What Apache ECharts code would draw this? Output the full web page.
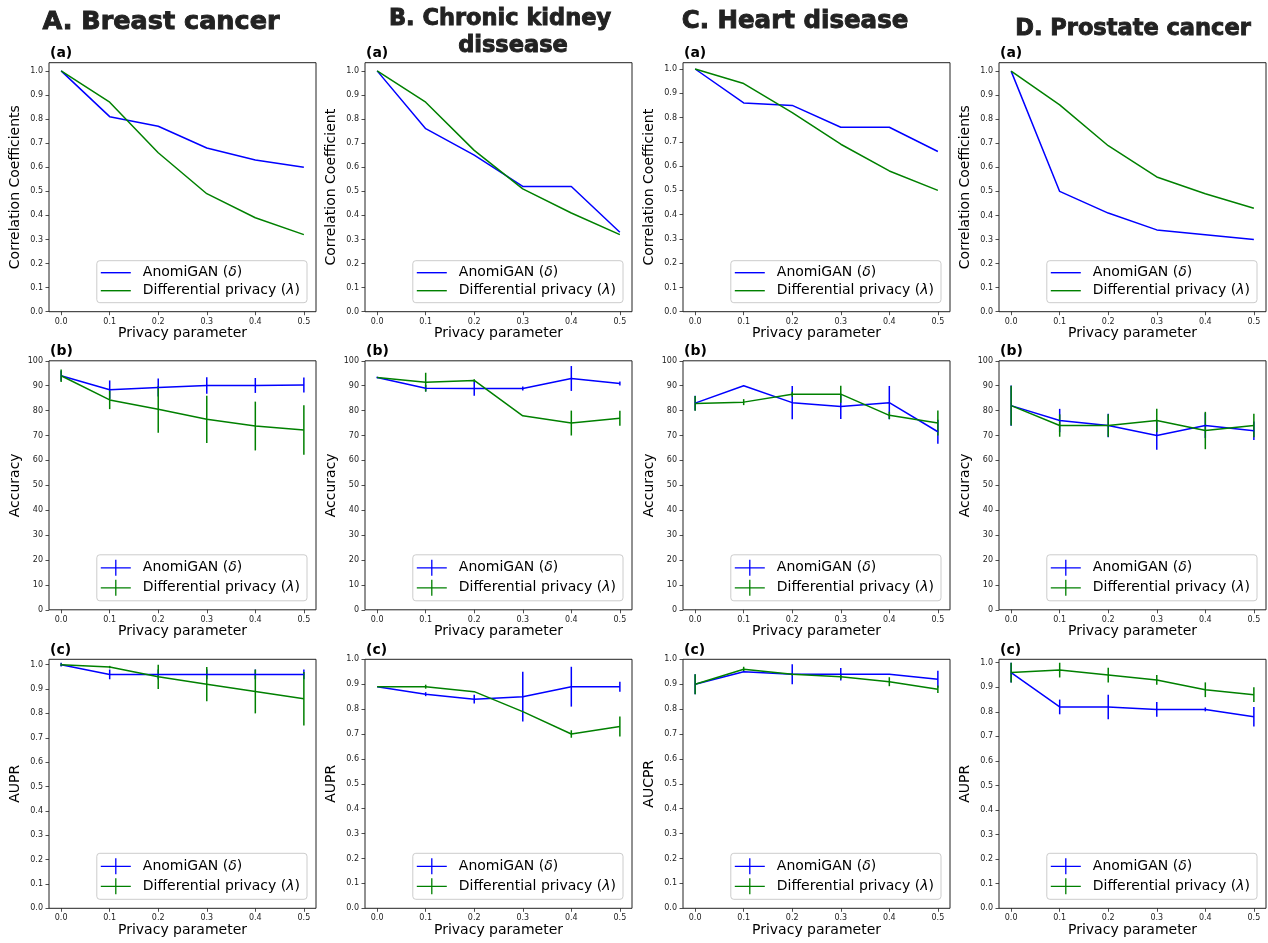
<!DOCTYPE html>
<html><head><meta charset="utf-8">
<script src="https://cdn.jsdelivr.net/npm/echarts@6/dist/echarts.min.js"></script>
<style>html,body{margin:0;padding:0;background:#fff}#c{width:1268px;height:943px}</style>
</head><body><div id="c"></div>
<script>
// ---------- data ----------
const privacyParams = [0.0, 0.1, 0.2, 0.3, 0.4, 0.5];
const xTicks = [0.0, 0.1, 0.2, 0.3, 0.4, 0.5];
const unitTicks = [0.0, 0.1, 0.2, 0.3, 0.4, 0.5, 0.6, 0.7, 0.8, 0.9, 1.0];
const accTicks = [0, 10, 20, 30, 40, 50, 60, 70, 80, 90, 100];
const datasetTitles = ['A. Breast cancer', 'B. Chronic kidney', 'dissease', 'C. Heart disease', 'D. Prostate cancer'];
const NAME_A = 'AnomiGAN (δ)';
const NAME_D = 'Differential privacy (λ)';

const corrYNames = ['Correlation Coefficients', 'Correlation Coefficient', 'Correlation Coefficient', 'Correlation Coefficients'];
const accYNames = ['Accuracy', 'Accuracy', 'Accuracy', 'Accuracy'];
const auprYNames = ['AUPR', 'AUPR', 'AUCPR', 'AUPR'];

const corrYMax = [1.034, 1.034, 1.026, 1.035];
const accYMax = [100, 100, 100, 100];
const auprYMax = [1.022, 1.0, 1.0, 1.014];

// (a) correlation coefficients  [breast, ckd, heart, prostate]
const corrAnomiGAN = [
  [1.0, 0.81, 0.77, 0.68, 0.63, 0.60],
  [1.0, 0.76, 0.65, 0.52, 0.52, 0.33],
  [1.0, 0.86, 0.85, 0.76, 0.76, 0.66],
  [1.0, 0.50, 0.41, 0.34, 0.32, 0.30]
];
const corrDP = [
  [1.0, 0.87, 0.66, 0.49, 0.39, 0.32],
  [1.0, 0.87, 0.67, 0.51, 0.41, 0.32],
  [1.0, 0.94, 0.82, 0.69, 0.58, 0.50],
  [1.0, 0.86, 0.69, 0.56, 0.49, 0.43]
];
// (b) accuracy
const accAnomiGAN = [
  [94.0, 88.4, 89.3, 90.1, 90.1, 90.3],
  [93.3, 89.0, 88.9, 88.9, 92.9, 90.9],
  [83.0, 90.0, 83.2, 81.6, 83.2, 71.5],
  [82.0, 76.0, 74.0, 70.0, 74.0, 71.9]
];
const accAnomiGANErr = [
  [2.0, 3.7, 3.6, 3.3, 3.0, 3.0],
  [0.3, 1.3, 2.9, 0.8, 5.0, 0.8],
  [3.0, 0.0, 6.7, 5.0, 6.7, 4.8],
  [8.1, 4.7, 4.7, 5.7, 5.0, 3.7]
];
const accDP = [
  [94.0, 84.3, 80.5, 76.5, 73.8, 72.2],
  [93.3, 91.4, 92.1, 77.9, 75.0, 76.9],
  [82.9, 83.4, 86.6, 86.6, 78.1, 75.0],
  [82.0, 74.0, 74.0, 76.0, 72.0, 74.0]
];
const accDPErr = [
  [2.5, 3.7, 9.4, 9.5, 9.8, 9.9],
  [0.0, 3.8, 0.5, 0.0, 5.0, 3.0],
  [3.0, 1.2, 1.0, 3.4, 1.5, 5.0],
  [8.0, 4.5, 4.5, 4.7, 7.5, 4.7]
];
// (c) AUPR
const auprAnomiGAN = [
  [1.0, 0.96, 0.96, 0.96, 0.96, 0.96],
  [0.89, 0.86, 0.84, 0.85, 0.89, 0.89],
  [0.90, 0.95, 0.94, 0.94, 0.94, 0.92],
  [0.96, 0.82, 0.82, 0.81, 0.81, 0.78]
];
const auprAnomiGANErr = [
  [0.008, 0.02, 0.02, 0.02, 0.02, 0.02],
  [0.0, 0.008, 0.018, 0.1, 0.08, 0.02],
  [0.04, 0.0, 0.04, 0.025, 0.0, 0.034],
  [0.04, 0.03, 0.05, 0.03, 0.008, 0.04]
];
const auprDP = [
  [1.0, 0.99, 0.95, 0.92, 0.89, 0.86],
  [0.89, 0.89, 0.87, 0.79, 0.70, 0.73],
  [0.90, 0.96, 0.94, 0.93, 0.91, 0.88],
  [0.96, 0.97, 0.95, 0.93, 0.89, 0.87]
];
const auprDPErr = [
  [0.005, 0.005, 0.05, 0.07, 0.09, 0.11],
  [0.0, 0.008, 0.0, 0.0, 0.015, 0.04],
  [0.04, 0.01, 0.005, 0.01, 0.018, 0.015],
  [0.04, 0.03, 0.03, 0.02, 0.03, 0.03]
];

// ---------- layout ----------
const W = 1268, H = 943;
const FONT = 'DejaVu Sans';
const BLUE = '#0000ff', GREEN = '#008000';
const colLeft = [49, 365, 683, 999];
const rowTop = [62.7, 360.8, 659.3];
const plotW = 267, plotH = 249;
const ERR_ICON = 'path://M0,7.35H30V8.65H0Z M14.35,0H15.65V16H14.35Z';
const LINE_ICON = 'path://M0,0H30V1.4H0Z';

const rows = [
  {a: corrAnomiGAN, d: corrDP, ae: null, de: null, ticks: unitTicks, yMax: corrYMax, label: '(a)', names: corrYNames, fmt: v => v.toFixed(1)},
  {a: accAnomiGAN, d: accDP, ae: accAnomiGANErr, de: accDPErr, ticks: accTicks, yMax: accYMax, label: '(b)', names: accYNames, fmt: v => String(v)},
  {a: auprAnomiGAN, d: auprDP, ae: auprAnomiGANErr, de: auprDPErr, ticks: unitTicks, yMax: auprYMax, label: '(c)', names: auprYNames, fmt: v => v.toFixed(1)}
];

const grids = [], xAxes = [], yAxes = [], series = [], legends = [], graphics = [];

function errSeries(name, idx, means, errs, color) {
  const data = [];
  privacyParams.forEach((x, k) => {
    if (errs[k] > 0) data.push([x, means[k] - errs[k], means[k] + errs[k]]);
  });
  return {
    name: name, type: 'custom', xAxisIndex: idx, yAxisIndex: idx, data: data, silent: true,
    renderItem: function (params, api) {
      const p1 = api.coord([api.value(0), api.value(1)]);
      const p2 = api.coord([api.value(0), api.value(2)]);
      return {type: 'line', shape: {x1: p1[0], y1: p1[1], x2: p2[0], y2: p2[1]}, style: {stroke: color, lineWidth: 1.5}};
    }
  };
}

const legendRich = {
  t: {fontFamily: FONT, fontSize: 14, color: '#000'},
  m: {fontFamily: FONT, fontSize: 14, color: '#000', fontStyle: 'italic'},
  s: {width: 7}
};
function legendFmt(name) {
  if (name === NAME_A) return '{s| }{t|AnomiGAN (}{m|δ}{t|)}';
  return '{s| }{t|Differential privacy (}{m|λ}{t|)}';
}

rows.forEach((row, r) => {
  for (let c = 0; c < 4; c++) {
    const i = r * 4 + c;
    const left = colLeft[c], top = rowTop[r];
    grids.push({left: left, top: top, width: plotW, height: plotH, show: true, borderColor: '#222', borderWidth: 1, backgroundColor: 'transparent'});
    xAxes.push({
      type: 'value', gridIndex: i, min: -0.025, max: 0.525, position: 'bottom',
      splitLine: {show: false}, axisLine: {show: false, onZero: false},
      axisTick: {show: true, customValues: xTicks, length: 3.5, lineStyle: {color: '#222', width: 0.8}},
      axisLabel: {customValues: xTicks, formatter: v => v.toFixed(1), fontFamily: FONT, fontSize: 8, color: '#222', margin: 6},
      name: 'Privacy parameter', nameLocation: 'middle', nameGap: 15,
      nameTextStyle: {fontFamily: FONT, fontSize: 14, color: '#000'}
    });
    yAxes.push({
      type: 'value', gridIndex: i, min: 0, max: row.yMax[c], position: 'left',
      splitLine: {show: false}, axisLine: {show: false, onZero: false},
      axisTick: {show: true, customValues: row.ticks, length: 3.5, lineStyle: {color: '#222', width: 0.8}},
      axisLabel: {customValues: row.ticks, formatter: row.fmt, fontFamily: FONT, fontSize: 8, color: '#222', margin: 6},
      name: row.names[c], nameLocation: 'middle', nameGap: 27,
      nameTextStyle: {fontFamily: FONT, fontSize: 14, color: '#000'}
    });
    const mk = vals => privacyParams.map((x, k) => [x, vals[k]]);
    series.push({name: NAME_A, type: 'line', xAxisIndex: i, yAxisIndex: i, data: mk(row.a[c]), symbol: 'none',
      lineStyle: {color: BLUE, width: 1.5}, itemStyle: {color: BLUE}, silent: true});
    if (row.ae) series.push(errSeries(NAME_A + ' err', i, row.a[c], row.ae[c], BLUE));
    series.push({name: NAME_D, type: 'line', xAxisIndex: i, yAxisIndex: i, data: mk(row.d[c]), symbol: 'none',
      lineStyle: {color: GREEN, width: 1.5}, itemStyle: {color: GREEN}, silent: true});
    if (row.de) series.push(errSeries(NAME_D + ' err', i, row.d[c], row.de[c], GREEN));

    const icon = row.ae ? ERR_ICON : LINE_ICON;
    legends.push({
      orient: 'vertical', align: 'left',
      right: W - (left + plotW - 9), bottom: H - (top + plotH - 9),
      itemWidth: 30, itemHeight: 16, itemGap: 4, symbolKeepAspect: true,
      padding: [5, 7, 5, 4],
      backgroundColor: 'rgba(255,255,255,0.85)', borderColor: '#cccccc', borderWidth: 1, borderRadius: 3,
      selectedMode: false,
      data: [{name: NAME_A, icon: icon}, {name: NAME_D, icon: icon}],
      formatter: legendFmt,
      textStyle: {fontFamily: FONT, fontSize: 14, color: '#000', rich: legendRich}
    });

    graphics.push({type: 'text', x: left + 1, y: top - 2,
      style: {text: row.label, font: 'bold 14px "DejaVu Sans"', fill: '#000', align: 'left', verticalAlign: 'bottom'}});
  }
});

// column titles
const titlePos = [[161, 22], [500, 19], [513, 46], [795, 22], [1133, 29]];
const titleSize = [25.5, 22.5, 22.5, 24.5, 22.5];
datasetTitles.forEach((t, k) => {
  graphics.push({type: 'text', x: titlePos[k][0], y: titlePos[k][1],
    style: {text: t, font: 'bold ' + titleSize[k] + 'px "DejaVu Sans"', fill: '#222', align: 'center', verticalAlign: 'middle',
      stroke: '#222', lineWidth: 0.9}});
});

const chart = echarts.init(document.getElementById('c'), null, {renderer: 'canvas'});
chart.setOption({
  animation: false,
  backgroundColor: '#fff',
  grid: grids, xAxis: xAxes, yAxis: yAxes, series: series, legend: legends,
  graphic: {elements: graphics}
});
</script></body></html>
